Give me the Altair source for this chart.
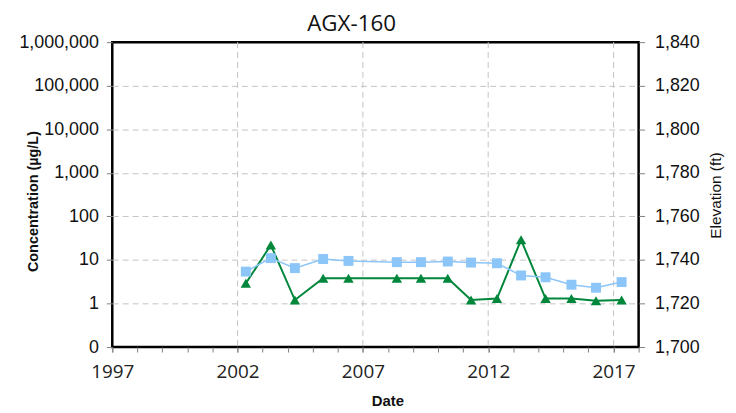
import altair as alt
import pandas as pd

# ---- data ----
chart_title = ["AGX-160"]
dates = ["2002-05-01", "2003-05-01", "2004-04-15", "2005-06-01", "2006-06-05",
         "2008-05-10", "2009-04-26", "2010-05-22", "2011-04-26", "2012-05-08",
         "2013-04-24", "2014-04-16", "2015-04-28", "2016-04-20", "2017-04-28"]
blue_vals = [5.4, 11, 6.5, 10.5, 9.5, 8.9, 8.9, 9.2, 8.7, 8.4, 4.4, 4.0, 2.7, 2.3, 3.1]
green_vals = [2.9, 22, 1.2, 3.8, 3.8, 3.8, 3.8, 3.8, 1.2, 1.3, 29, 1.3, 1.3, 1.15, 1.2]
label_years = [1997, 2002, 2007, 2012, 2017]
grid_years = [2002, 2007, 2012, 2017]
conc_ticks = [0.1, 1, 10, 100, 1000, 10000, 100000, 1000000]
elev_ticks = [1700, 1720, 1740, 1760, 1780, 1800, 1820, 1840]
year_ticks = list(range(1997, 2019))

BLUE = "#8CC6F8"
GREEN = "#00873C"

df = pd.DataFrame({
    "date": [d + "T00:00:00" for d in dates],
    "blue": blue_vals,
    "green": green_vals,
})
grid_df = pd.DataFrame({"date": [f"{y}-01-01T00:00:00" for y in grid_years]})
elev_df = pd.DataFrame({"elev": [elev_ticks[0], elev_ticks[-1]]})
title_df = pd.DataFrame({"t": chart_title})

x_scale = alt.Scale(domain=[alt.DateTime(year=1997, month=1, date=1),
                            alt.DateTime(year=2018, month=1, date=1)])

# labelled axis (5-year labels)
x_axis_main = alt.Axis(
    orient="bottom",
    title="Date",
    values=[alt.DateTime(year=y, month=1, date=1) for y in label_years],
    format="%Y", labelOverlap=False, labelFlush=False,
    grid=False, domain=False,
    tickColor="#808080", tickSize=5,
    labelFont="Open Sans", labelFontSize=19, labelColor="#222222", labelPadding=11,
    titleFont="Arial", titleFontSize=15, titleFontWeight="bold", titleColor="#111111",
    titleX=277, titleY=59, titleBaseline="alphabetic",
)
# minor yearly ticks
x_axis_minor = alt.Axis(
    orient="bottom",
    title=None, labels=False, grid=False, domain=False,
    values=[alt.DateTime(year=y, month=1, date=1) for y in year_ticks],
    tickColor="#808080", tickSize=5,
)

y_scale = alt.Scale(type="log", domain=[conc_ticks[0], conc_ticks[-1]], nice=False)
y_axis = alt.Axis(
    title="Concentration (µg/L)",
    values=conc_ticks,
    labelExpr="datum.value < 0.5 ? '0' : format(datum.value, ',')",
    labelOverlap=False,
    grid=True, gridDash=[6, 4], gridColor="#C4C4C4", gridWidth=1,
    gridOpacity={"condition": {"test": "datum.value < 0.5 || datum.value > 500000", "value": 0},
                 "value": 1},
    domain=False, tickColor="#808080", tickSize=6,
    labelFont="Arial", labelFontSize=18, labelColor="#111111", labelPadding=8,
    titleFont="Arial", titleFontSize=14.5, titleFontWeight="bold", titleColor="#111111",
    titleAngle=-90, titleX=-72, titleY=160, titleBaseline="bottom",
)

grid = alt.Chart(grid_df).mark_rule(
    color="#C4C4C4", strokeDash=[6, 4], strokeWidth=1
).encode(x=alt.X("date:T", scale=x_scale, axis=x_axis_minor))

green_line = alt.Chart(df).mark_line(
    color=GREEN, strokeWidth=2,
    point=alt.OverlayMarkDef(shape="triangle-up", size=110, filled=True, color=GREEN, opacity=1),
).encode(x=alt.X("date:T", scale=x_scale, axis=x_axis_main),
         y=alt.Y("green:Q", scale=y_scale, axis=y_axis))

blue_line = alt.Chart(df).mark_line(
    color=BLUE, strokeWidth=1.5,
    point=alt.OverlayMarkDef(shape="square", size=100, filled=True, color=BLUE, opacity=1),
).encode(x=alt.X("date:T", scale=x_scale, axis=None),
         y=alt.Y("blue:Q", scale=y_scale, axis=None))

right = alt.Chart(elev_df).mark_point(opacity=0).encode(
    x=alt.value(0),
    y=alt.Y("elev:Q",
            scale=alt.Scale(domain=[elev_ticks[0], elev_ticks[-1]], nice=False, zero=False),
            axis=alt.Axis(
                orient="right", title="Elevation (ft)", values=elev_ticks,
                labelExpr="format(datum.value, ',')", labelOverlap=False,
                grid=False, domain=False, tickColor="#808080", tickSize=6,
                labelFont="Arial", labelFontSize=18, labelColor="#111111", labelPadding=10,
                titleFont="Arial", titleFontSize=15.5, titleFontWeight="normal",
                titleColor="#111111", titleAngle=-90, titleX=85, titleY=154,
                titleBaseline="bottom",
            )),
)

title_text = alt.Chart(title_df).mark_text(
    font="Open Sans", fontSize=22.5, color="#111111", align="center", baseline="alphabetic"
).encode(text="t:N", x=alt.value(241), y=alt.value(-11))

chart = alt.layer(grid, green_line, blue_line, right, title_text).resolve_scale(
    y="independent"
).resolve_axis(x="independent").properties(
    width=530, height=307,
    background="white",
    autosize=alt.AutoSizeParams(type="none"),
    padding={"left": 105, "top": 33, "right": 90, "bottom": 64},
).configure_view(stroke="black", strokeWidth=2.5)

chart.save("out.html", embed_options={"renderer": "svg", "actions": False})
